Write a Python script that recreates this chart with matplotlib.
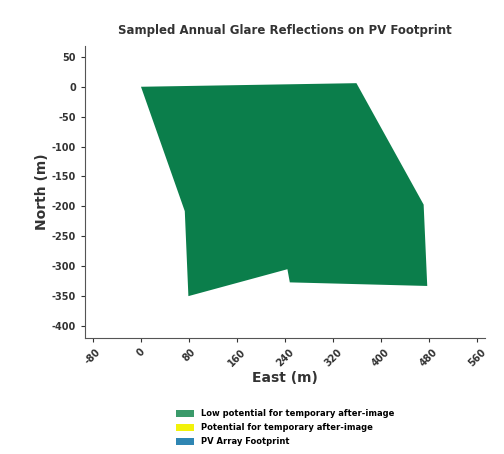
import matplotlib as mpl
mpl.use("Agg")

import matplotlib.pyplot as plt
from matplotlib.patches import Patch

plt.rcParams["axes.unicode_minus"] = False

# footprint outline (m)
east = [0, 359, 471, 477, 248, 244, 79, 73]
north = [0, 6, -197, -333, -327, -305, -350, -208]

x_ticks = [-80, 0, 80, 160, 240, 320, 400, 480, 560]
y_ticks = [50, 0, -50, -100, -150, -200, -250, -300, -350, -400]

legend_labels = ["Low potential for temporary after-image",
                 "Potential for temporary after-image",
                 "PV Array Footprint"]
legend_colors = ["#3a9a6a", "#f2f20a", "#2f86b3"]

fig = plt.figure(figsize=(5.04, 4.54), dpi=100)
ax = fig.add_axes([0.169, 0.2555, 0.793, 0.643])

ax.fill(east, north, color="#0b7e4b", lw=0)

ax.set_xlim(-93, 573)
ax.set_ylim(-420, 68)
ax.set_xticks(x_ticks)
ax.set_yticks(y_ticks)
ax.tick_params(axis="x", labelrotation=45, labelsize=7, length=3, width=0.8, colors="#333333")
ax.tick_params(axis="y", labelsize=7, length=3, width=0.8, colors="#333333")
for lab in ax.get_xticklabels() + ax.get_yticklabels():
    lab.set_fontweight("bold")
for s in ["top", "right"]:
    ax.spines[s].set_visible(False)
for s in ["left", "bottom"]:
    ax.spines[s].set_linewidth(0.8)
    ax.spines[s].set_color("#555555")
    ax.spines[s].set_linestyle((0, (2, 1)))

ax.set_xlabel("East (m)", fontsize=10, fontweight="bold", color="#333333", labelpad=2)
ax.set_ylabel("North (m)", fontsize=10, fontweight="bold", color="#333333", labelpad=2)
ax.set_title("Sampled Annual Glare Reflections on PV Footprint",
             fontsize=8.5, fontweight="bold", color="#333333", pad=9)

handles = [Patch(facecolor=c, edgecolor="none") for c in legend_colors]
fig.legend(handles, legend_labels, loc="upper center", bbox_to_anchor=(0.565, 0.115),
           frameon=False, handlelength=2.2, handleheight=0.8,
           labelspacing=0.6, prop={"weight": "bold", "size": 6})

fig.savefig("out.png", dpi=100)
